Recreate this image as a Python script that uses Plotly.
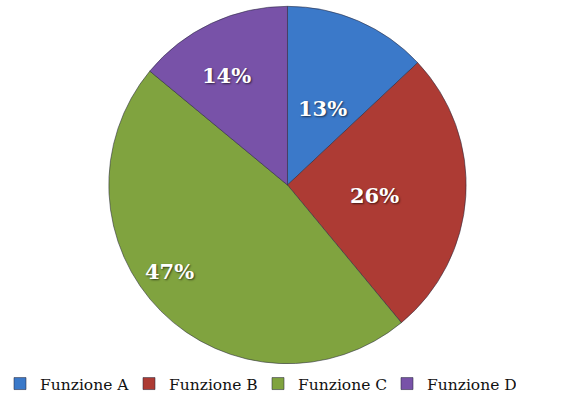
import math
import plotly.graph_objects as go

# Share of each function
labels = ["Funzione A", "Funzione B", "Funzione C", "Funzione D"]
values = [13, 26, 47, 14]
colors = ["#3b79c9", "#ad3b34", "#80a33f", "#7852a8"]

# Placement of the percentage labels inside each slice:
# radial distance as a fraction of the radius, and an angular nudge (degrees)
label_radius = [0.47, 0.49, 0.82, 0.70]
label_nudge = [1.0, 3.6, 8.8, -4.0]

W, H = 566, 403
# Pie domain in pixels
x0, x1 = 108, 466
y0, y1 = 6, 364
cx, cy = (x0 + x1) / 2, (y0 + y1) / 2
R = min(x1 - x0, y1 - y0) / 2

fig = go.Figure(
    go.Pie(
        labels=labels,
        values=values,
        sort=False,
        direction="clockwise",
        rotation=0,
        marker=dict(colors=colors, line=dict(color="rgba(40,40,60,0.55)", width=1)),
        textinfo="none",
        hoverinfo="label+percent",
        domain=dict(x=[x0 / W, x1 / W], y=[1 - y1 / H, 1 - y0 / H]),
    )
)

# Percentage labels, placed along each slice's bisector
total = sum(values)
cum = 0
for v, rf, nudge in zip(values, label_radius, label_nudge):
    mid = (cum + v / 2) / total * 360 + nudge
    cum += v
    px = cx + rf * R * math.sin(math.radians(mid))
    py = cy - rf * R * math.cos(math.radians(mid))
    fig.add_annotation(
        x=px / W, y=1 - py / H, xref="paper", yref="paper",
        text=f"{round(v / total * 100)}%", showarrow=False,
        xanchor="center", yanchor="middle",
        font=dict(family="DejaVu Serif", size=21, color="white", weight="bold",
                  shadow="1px 1px 2px rgba(0,0,0,0.6)"),
    )

fig.update_layout(
    width=W,
    height=H,
    margin=dict(l=0, r=0, t=0, b=0),
    paper_bgcolor="white",
    plot_bgcolor="white",
    showlegend=True,
    legend=dict(
        orientation="h",
        x=0.442,
        xanchor="center",
        y=0.005,
        yanchor="bottom",
        itemwidth=30,
        entrywidth=84,
        font=dict(family="DejaVu Serif", size=15.5, color="#111111"),
        traceorder="normal",
        bgcolor="rgba(0,0,0,0)",
    ),
)

fig.write_html("out.html")
